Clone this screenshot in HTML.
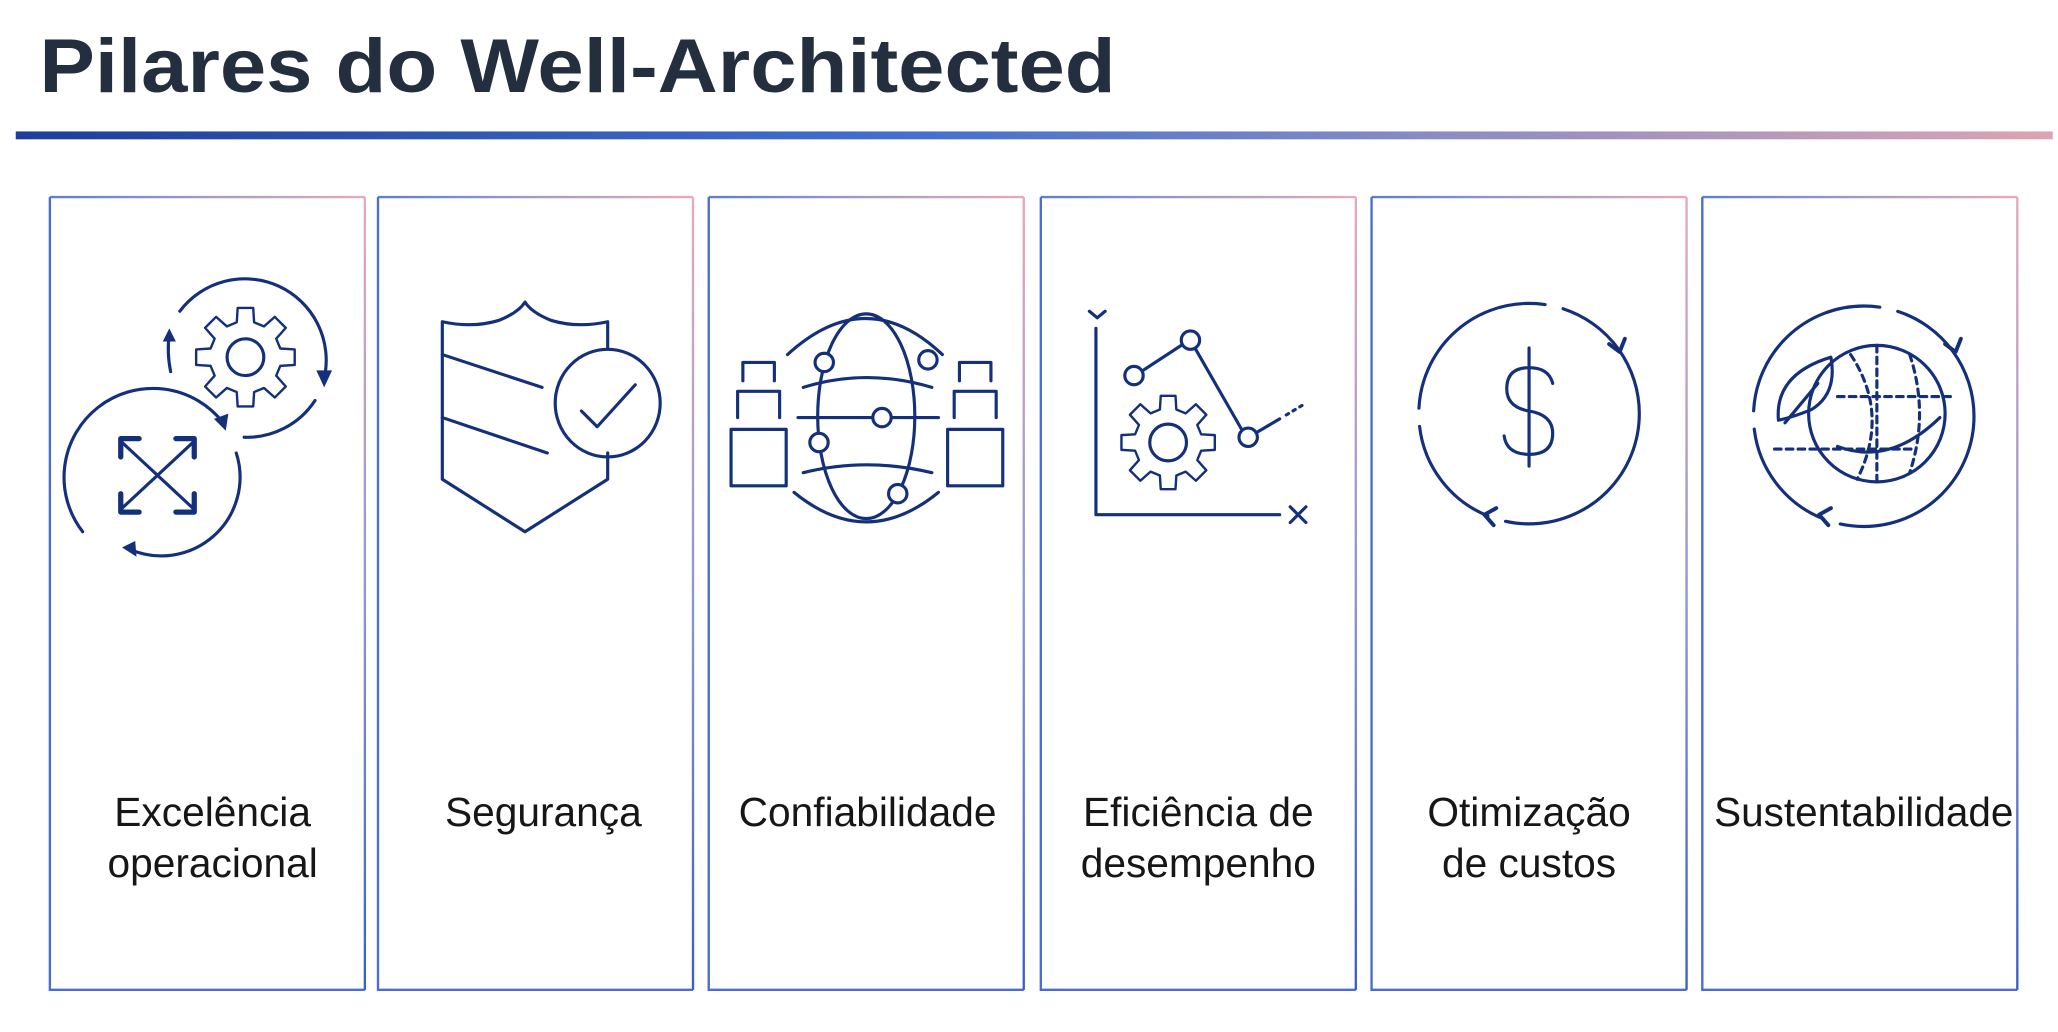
<!DOCTYPE html>
<html><head><meta charset="utf-8"><style>
html,body{margin:0;padding:0;background:#fff;width:2058px;height:1032px;overflow:hidden}
svg{display:block}
text{font-family:"Liberation Sans",sans-serif}
</style></head><body>
<svg width="2058" height="1032" viewBox="0 0 1568 786" xmlns="http://www.w3.org/2000/svg">
<defs>
<linearGradient id="hl" x1="0" x2="1" y1="0" y2="0">
<stop offset="0" stop-color="#1e3d9c"/><stop offset="0.45" stop-color="#4670d0"/><stop offset="0.7" stop-color="#8a8cc4"/><stop offset="1" stop-color="#dca4b2"/></linearGradient>
<linearGradient id="tp" gradientUnits="userSpaceOnUse" x1="0" x2="240" y1="0" y2="0">
<stop offset="0" stop-color="#5a7ed6"/><stop offset="0.5" stop-color="#a49ac4"/><stop offset="1" stop-color="#e6aabb"/></linearGradient>
<linearGradient id="rt" gradientUnits="userSpaceOnUse" x1="0" x2="0" y1="0" y2="604">
<stop offset="0" stop-color="#e6aabb"/><stop offset="0.5" stop-color="#8e96d0"/><stop offset="1" stop-color="#3a5fc6"/></linearGradient>
<g id="bx" fill="none" stroke-width="1.8">
<path d="M0,0 H240" stroke="url(#tp)"/>
<path d="M0,0 V604 H240" stroke="#4a6ed0"/>
<path d="M240,0 V604" stroke="url(#rt)"/>
</g>
<path id="gear" vector-effect="non-scaling-stroke" d="M69.9,-17.4 L98.8,-15.6 L98.8,15.6 L69.9,17.4 L61.7,37.1 L80.9,58.8 L58.8,80.9 L37.1,61.7 L17.4,69.9 L15.6,98.8 L-15.6,98.8 L-17.4,69.9 L-37.1,61.7 L-58.8,80.9 L-80.9,58.8 L-61.7,37.1 L-69.9,17.4 L-98.8,15.6 L-98.8,-15.6 L-69.9,-17.4 L-61.7,-37.1 L-80.9,-58.8 L-58.8,-80.9 L-37.1,-61.7 L-17.4,-69.9 L-15.6,-98.8 L15.6,-98.8 L17.4,-69.9 L37.1,-61.7 L58.8,-80.9 L80.9,-58.8 L61.7,-37.1 Z"/>
</defs>
<text x="30" y="70" font-size="58" font-weight="bold" fill="#232f3e" textLength="820" lengthAdjust="spacingAndGlyphs">Pilares do Well-Architected</text>
<rect x="12" y="100" width="1552" height="6" fill="url(#hl)"/>
<use href="#bx" x="38" y="150"/>
<use href="#bx" x="288" y="150"/>
<use href="#bx" x="540" y="150"/>
<use href="#bx" x="793" y="150"/>
<use href="#bx" x="1045" y="150"/>
<use href="#bx" x="1297" y="150"/>
<g font-size="31" fill="#161616" text-anchor="middle">
<text x="162" y="629">Excelência</text><text x="162" y="668">operacional</text>
<text x="414" y="629">Segurança</text>
<text x="661" y="629">Confiabilidade</text>
<text x="913" y="629">Eficiência de</text><text x="913" y="668">desempenho</text>
<text x="1165" y="629">Otimização</text><text x="1165" y="668">de custos</text>
<text x="1420" y="629" textLength="228" lengthAdjust="spacingAndGlyphs">Sustentabilidade</text>
</g>
<g fill="none" stroke="#14307a" stroke-width="2.4" stroke-linecap="round" stroke-linejoin="round">
<use href="#gear" transform="translate(187,272) scale(0.38)"/>
<circle cx="187" cy="272" r="14"/>
<path d="M137,237 A62,62 0 0 1 247,288"/>
<path d="M240,305 A62,62 0 0 1 186,333"/>
<path d="M130,283 Q127,268 129,255"/>
<path d="M63,405 A60,60 0 0 1 170,322"/>
<path d="M180,345 A60,60 0 0 1 98,418"/>
<path d="M92,336 L148,388 M148,336 L92,388"/>
<path d="M92,348 V334 H106 M134,334 H148 V348 M92,376 V390 H106 M134,390 H148 V376" stroke-width="4"/>
<g fill="#14307a" stroke="none">
<path d="M241,282 L253,282 L247,295Z"/><path d="M124,260 L134,260 L129,250Z"/>
<path d="M163,319 L174,315 L172,328Z"/><path d="M103,412 L104,424 L93,417Z"/>
</g>
<path d="M463,265 V245 Q440,250 420,244 Q405,238 400,230 Q395,238 380,244 Q360,250 337,245 V365 L400,405 L463,365 V345"/>
<path d="M337,270 L413,295 M337,318 L417,345"/>
<ellipse cx="463" cy="307" rx="40" ry="41"/>
<path d="M443,313 L455,325 L484,293"/>
<ellipse cx="660" cy="317" rx="37" ry="78"/>
<path d="M600,270 Q660,215 718,270 M605,375 Q660,420 715,375 M608,318 H715 M612,295 Q660,280 710,295 M612,360 Q660,348 710,360"/>
<circle cx="628" cy="276" r="7" fill="#fff"/><circle cx="707" cy="274" r="7" fill="#fff"/><circle cx="672" cy="318" r="7" fill="#fff"/><circle cx="624" cy="337" r="7" fill="#fff"/><circle cx="684" cy="376" r="7" fill="#fff"/>
<rect x="557" y="327" width="42" height="43"/><path d="M562,318 V298 H594 V318 M566,290 V276 H590 V290"/>
<rect x="722" y="327" width="42" height="43"/><path d="M727,318 V298 H759 V318 M731,290 V276 H755 V290"/>
<path d="M835,250 V392 H975 M830,237 L836,242 L842,237 M983,386 L995,398 M995,386 L983,398"/>
<path d="M871,282 L900,263 M911,266 L946,327 M958,329 L975,319"/>
<path d="M980,316 L995,307" stroke-dasharray="2 4"/>
<circle cx="864" cy="286" r="7"/><circle cx="907" cy="259" r="7"/><circle cx="951" cy="333" r="7"/>
<use href="#gear" transform="translate(890,337) scale(0.36)"/><circle cx="890" cy="337" r="14"/>
<circle cx="1165" cy="315" r="84" stroke-dasharray="150 14 90 14 140 14 110 14"/>
<path d="M1226,262 L1234,268 L1238,258 M1140,387 L1131,392 L1138,400" stroke-width="3"/>
<path d="M1165,265 V355 M1183,292 Q1180,280 1165,280 Q1148,280 1148,296 Q1148,310 1165,313 Q1183,316 1183,330 Q1183,346 1165,346 Q1148,346 1146,332"/>
<circle cx="1420" cy="317" r="84" stroke-dasharray="150 14 90 14 140 14 110 14"/>
<path d="M1482,262 L1490,268 L1494,258 M1395,387 L1386,392 L1393,400" stroke-width="3"/>
<circle cx="1430" cy="315" r="52"/>
<path d="M1400,302 H1490 M1352,342 H1460 M1430,263 V367 M1410,270 Q1440,315 1415,365 M1455,270 Q1470,315 1455,360" stroke-dasharray="5 4"/>
<path d="M1355,320 Q1352,285 1395,272 Q1400,300 1380,312 Q1365,318 1355,320 M1360,322 L1385,292"/>
<path d="M1400,340 Q1440,355 1478,318"/>
</g>
</svg>
</body></html>
